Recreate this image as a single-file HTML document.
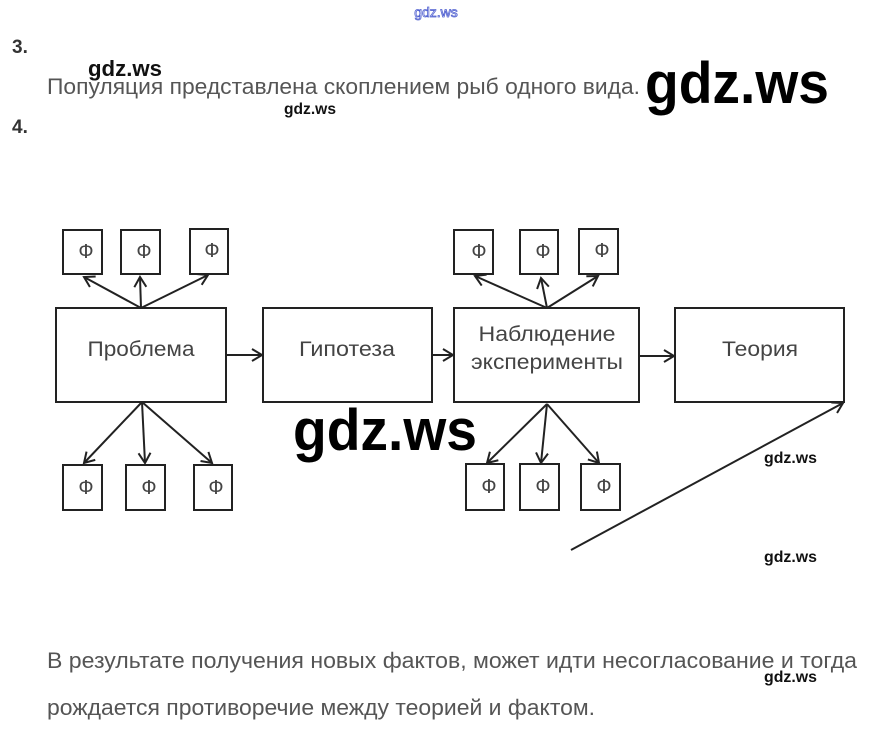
<!DOCTYPE html>
<html><head><meta charset="utf-8"><style>
html,body{margin:0;padding:0;background:#fff;}
svg{display:block;}
</style></head><body>
<svg width="871" height="740" viewBox="0 0 871 740" xmlns="http://www.w3.org/2000/svg">
<defs>
<marker id="a" markerWidth="14" markerHeight="14" refX="11" refY="7" orient="auto" markerUnits="userSpaceOnUse">
<path d="M1,1 L11,7 L1,13" fill="none" stroke="#222" stroke-width="2"/>
</marker>
</defs>
<g font-family="Liberation Sans, sans-serif">
<text x="436" y="17" font-size="14" fill="#fff" stroke="#5060d0" stroke-width="0.8" text-anchor="middle">gdz.ws</text>
<text x="12" y="53" font-size="19" font-weight="bold" fill="#333">3.</text>
<text x="12" y="133" font-size="19" font-weight="bold" fill="#333">4.</text>
<text x="47" y="94" font-size="22" fill="#555" textLength="593" lengthAdjust="spacingAndGlyphs">Популяция представлена скоплением рыб одного вида.</text>
<text x="88" y="76" font-size="22" font-weight="bold" fill="#111" textLength="74" lengthAdjust="spacingAndGlyphs">gdz.ws</text>
<text x="284" y="114" font-size="16" font-weight="bold" fill="#111" textLength="52" lengthAdjust="spacingAndGlyphs">gdz.ws</text>
<text x="645" y="103" font-size="58" font-weight="bold" fill="#000" textLength="184" lengthAdjust="spacingAndGlyphs">gdz.ws</text>
<text x="293" y="450" font-size="58" font-weight="bold" fill="#000" textLength="184" lengthAdjust="spacingAndGlyphs">gdz.ws</text>
<text x="764" y="463" font-size="16" font-weight="bold" fill="#111" textLength="53" lengthAdjust="spacingAndGlyphs">gdz.ws</text>
<text x="764" y="562" font-size="16" font-weight="bold" fill="#111" textLength="53" lengthAdjust="spacingAndGlyphs">gdz.ws</text>
<text x="764" y="682" font-size="16" font-weight="bold" fill="#111" textLength="53" lengthAdjust="spacingAndGlyphs">gdz.ws</text>
<text x="47" y="668" font-size="22" fill="#555" textLength="810" lengthAdjust="spacingAndGlyphs">В результате получения новых фактов, может идти несогласование и тогда</text>
<text x="47" y="715" font-size="22" fill="#555" textLength="548" lengthAdjust="spacingAndGlyphs">рождается противоречие между теорией и фактом.</text>
</g>
<g fill="none" stroke="#222" stroke-width="2">
<rect x="56" y="308" width="170" height="94"/>
<rect x="263" y="308" width="169" height="94"/>
<rect x="454" y="308" width="185" height="94"/>
<rect x="675" y="308" width="169" height="94"/>
<rect x="63" y="230" width="39" height="44"/>
<rect x="121" y="230" width="39" height="44"/>
<rect x="190" y="229" width="38" height="45"/>
<rect x="63" y="465" width="39" height="45"/>
<rect x="126" y="465" width="39" height="45"/>
<rect x="194" y="465" width="38" height="45"/>
<rect x="454" y="230" width="39" height="44"/>
<rect x="520" y="230" width="38" height="44"/>
<rect x="579" y="229" width="39" height="45"/>
<rect x="466" y="464" width="38" height="46"/>
<rect x="520" y="464" width="39" height="46"/>
<rect x="581" y="464" width="39" height="46"/>
</g>
<g stroke="#222" stroke-width="2" marker-end="url(#a)">
<line x1="141" y1="308" x2="84" y2="277"/>
<line x1="141" y1="308" x2="140" y2="277"/>
<line x1="141" y1="308" x2="208" y2="275"/>
<line x1="142" y1="402" x2="84" y2="463"/>
<line x1="142" y1="402" x2="145" y2="463"/>
<line x1="142" y1="402" x2="212" y2="463"/>
<line x1="547" y1="308" x2="475" y2="276"/>
<line x1="547" y1="308" x2="541" y2="278"/>
<line x1="547" y1="308" x2="598" y2="276"/>
<line x1="547" y1="404" x2="487" y2="463"/>
<line x1="547" y1="404" x2="541" y2="463"/>
<line x1="547" y1="404" x2="599" y2="463"/>
<line x1="226" y1="355" x2="262" y2="355"/>
<line x1="432" y1="355" x2="453" y2="355"/>
<line x1="639" y1="356" x2="674" y2="356"/>
<line x1="571" y1="550" x2="843" y2="403"/>
</g>
<g font-family="Liberation Sans, sans-serif" fill="#444" text-anchor="middle">
<text x="141" y="356" font-size="21" textLength="107" lengthAdjust="spacingAndGlyphs">Проблема</text>
<text x="347" y="356" font-size="21" textLength="96" lengthAdjust="spacingAndGlyphs">Гипотеза</text>
<text x="547" y="341" font-size="21" textLength="137" lengthAdjust="spacingAndGlyphs">Наблюдение</text>
<text x="547" y="369" font-size="21" textLength="152" lengthAdjust="spacingAndGlyphs">эксперименты</text>
<text x="760" y="356" font-size="21" textLength="76" lengthAdjust="spacingAndGlyphs">Теория</text>
<g font-size="20">
<text x="86" y="258">Ф</text><text x="144" y="258">Ф</text><text x="212" y="257">Ф</text>
<text x="86" y="494">Ф</text><text x="149" y="494">Ф</text><text x="216" y="494">Ф</text>
<text x="479" y="258">Ф</text><text x="543" y="258">Ф</text><text x="602" y="257">Ф</text>
<text x="489" y="493">Ф</text><text x="543" y="493">Ф</text><text x="604" y="493">Ф</text>
</g>
</g>
</svg>
</body></html>
